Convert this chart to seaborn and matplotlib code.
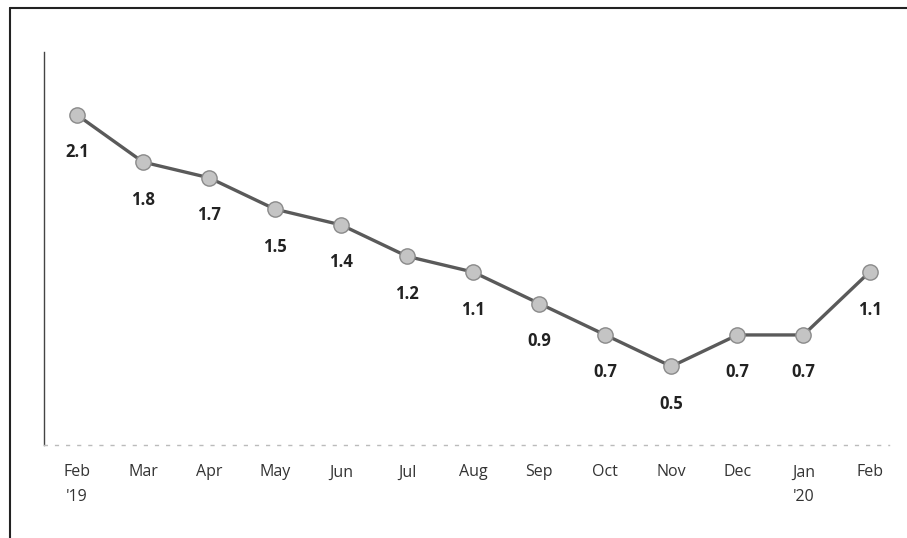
import numpy as np
import pandas as pd
import matplotlib
matplotlib.use("Agg")
import matplotlib.pyplot as plt
import seaborn as sns
from matplotlib.lines import Line2D

months = ["Feb\n'19", "Mar", "Apr", "May", "Jun", "Jul", "Aug",
          "Sep", "Oct", "Nov", "Dec", "Jan\n'20", "Feb"]
values = [2.1, 1.8, 1.7, 1.5, 1.4, 1.2, 1.1, 0.9, 0.7, 0.5, 0.7, 0.7, 1.1]

sns.set_style("white")
plt.rcParams["font.family"] = ["Open Sans", "DejaVu Sans"]

df = pd.DataFrame({"pos": np.arange(len(months)), "value": values})

fig = plt.figure(figsize=(9.07, 5.38), dpi=100)
ax = fig.add_axes([0.0485, 0.1729, 0.932, 0.7304])

sns.lineplot(data=df, x="pos", y="value", ax=ax, color="#5a5a5a", linewidth=2.4,
             marker="o", markersize=11, markerfacecolor="#c4c4c4",
             markeredgecolor="#8a8a8a", markeredgewidth=1.0)

for x, v in zip(df["pos"], df["value"]):
    ax.annotate(f"{v:.1f}", (x, v), xytext=(0, -27), textcoords="offset points",
                ha="center", va="center", fontsize=12, fontweight="bold",
                color="#222222")

ax.set_xlim(-0.5, 12.3)
ax.set_ylim(0, 2.5)
ax.set_xticks(df["pos"])
ax.set_xticklabels(months, fontsize=11.5, color="#333333", linespacing=1.75)
ax.set_yticks([])
ax.set_xlabel("")
ax.set_ylabel("")
ax.tick_params(axis="x", length=0, pad=14)

for side in ["top", "right"]:
    ax.spines[side].set_visible(False)
ax.spines["left"].set_color("#444444")
ax.spines["left"].set_linewidth(1.0)
ax.spines["bottom"].set_color("#bbbbbb")
ax.spines["bottom"].set_linestyle((0, (2, 6)))
ax.spines["bottom"].set_linewidth(1.0)

# scanned frame border
fig.add_artist(Line2D([10 / 907, 10 / 907], [0, 1 - 8 / 538],
                      transform=fig.transFigure, color="#222222", linewidth=1.5))
fig.add_artist(Line2D([10 / 907, 1], [1 - 8 / 538, 1 - 8 / 538],
                      transform=fig.transFigure, color="#222222", linewidth=1.5))

fig.savefig("out.png", dpi=100)
